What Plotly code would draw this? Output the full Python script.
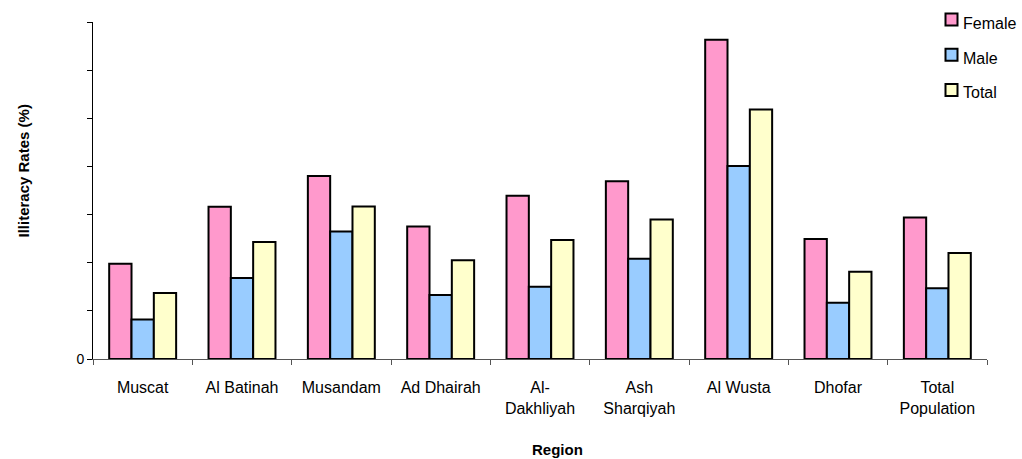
import plotly.graph_objects as go

regions = ["Muscat", "Al Batinah", "Musandam", "Ad Dhairah", "Al-<br>Dakhliyah",
           "Ash<br>Sharqiyah", "Al Wusta", "Dhofar", "Total<br>Population"]
female = [19.8, 31.6, 38.0, 27.5, 33.9, 36.9, 66.3, 24.9, 29.4]
male = [8.2, 16.8, 26.5, 13.3, 15.0, 20.8, 40.1, 11.7, 14.7]
total = [13.7, 24.3, 31.7, 20.5, 24.7, 29.0, 51.8, 18.1, 22.0]
series_names = ["Female", "Male", "Total"]
colors = ["#FF99CC", "#99CCFF", "#FFFFCC"]
y_tickvals = [0, 10, 20, 30, 40, 50, 60, 70]
y_ticktext = ["0", "", "", "", "", "", "", ""]

W, H = 1022, 459
PL, PR, PT, PB = 93, 987, 22, 359          # plot area in page pixels
L, R, T, B = PL, W - PR, PT, H - PB
FONT = "Liberation Sans, Arial, sans-serif"

def px_x(x):
    return (x - PL) / (PR - PL)

def px_y(y):
    return (PB - y) / (PB - PT)

fig = go.Figure()
for name, vals, col in zip(series_names, [female, male, total], colors):
    fig.add_trace(go.Bar(x=regions, y=vals, name=name, showlegend=False,
                         marker=dict(color=col, line=dict(color="black", width=2))))

# manual legend (square swatches + labels)
legend_rows = [(19.5, 23.3), (54.8, 58.3), (90.0, 92.7)]
for (sq_y, tx_y), name, col in zip(legend_rows, series_names, colors):
    fig.add_shape(type="rect", xref="paper", yref="paper",
                  x0=px_x(945.5), x1=px_x(957.5), y0=px_y(sq_y + 6), y1=px_y(sq_y - 6),
                  fillcolor=col, line=dict(color="black", width=2))
    fig.add_annotation(xref="paper", yref="paper", x=px_x(961), y=px_y(tx_y),
                       xanchor="left", yanchor="middle", text=name, showarrow=False,
                       font=dict(family=FONT, size=16, color="black"))

fig.add_annotation(xref="paper", yref="paper", x=px_x(23), y=px_y(171.5),
                   text="<b>Illiteracy Rates (%)</b>", textangle=-90, showarrow=False,
                   xanchor="center", yanchor="middle",
                   font=dict(family=FONT, size=15, color="black"))
fig.add_annotation(xref="paper", yref="paper", x=px_x(557), y=px_y(450),
                   text="<b>Region</b>", showarrow=False,
                   xanchor="center", yanchor="middle",
                   font=dict(family=FONT, size=15, color="black"))

fig.update_layout(
    width=W, height=H,
    margin=dict(l=L, r=R, t=T, b=B),
    paper_bgcolor="white", plot_bgcolor="white",
    barmode="group", bargap=0.326, bargroupgap=0,
    font=dict(family=FONT, size=16, color="black"),
)
fig.update_xaxes(type="category", showline=True, linecolor="#555", linewidth=1,
                 ticks="outside", tickson="boundaries", ticklen=5, tickcolor="#555",
                 showgrid=False, ticklabelstandoff=14,
                 tickfont=dict(family=FONT, size=16, color="black"))
fig.update_yaxes(range=[0, 70], showline=True, linecolor="black", linewidth=1,
                 ticks="outside", ticklen=5, tickcolor="black",
                 tickvals=y_tickvals, ticktext=y_ticktext, showgrid=False, zeroline=False,
                 tickfont=dict(family=FONT, size=14, color="black"))

fig.write_html("out.html", config={"displayModeBar": False},
               post_script="document.body.style.margin='0';document.body.style.overflow='hidden';")
